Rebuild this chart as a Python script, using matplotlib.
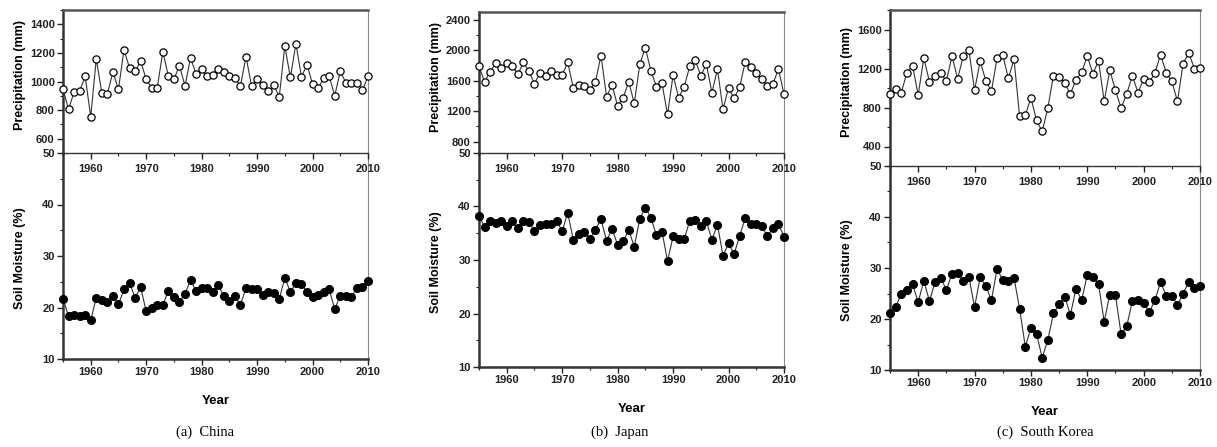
# Precipitation and soil moisture, 1955-2010, three countries

import numpy as np
import matplotlib
matplotlib.use("Agg")
import matplotlib.pyplot as plt
from matplotlib.ticker import MultipleLocator

plt.rcParams['font.family'] = ['Liberation Sans', 'DejaVu Sans']
plt.rcParams['font.weight'] = 'bold'

# === Data ===
years = list(range(1955, 2011))

china_precip = [948, 805, 927, 934, 1035, 753, 1158, 920, 915, 1064,
                946, 1221, 1094, 1073, 1141, 1016, 953, 958, 1209, 1038,
                1016, 1111, 969, 1165, 1052, 1087, 1035, 1047, 1087, 1068,
                1040, 1024, 969, 1174, 969, 1016, 974, 934, 974, 894,
                1249, 1028, 1264, 1033, 1118, 981, 953, 1021, 1038, 901,
                1071, 993, 991, 988, 940, 1035]
china_soil = [21.7, 18.3, 18.6, 18.3, 18.6, 17.5, 21.9, 21.4, 21.1, 22.2,
              20.6, 23.5, 24.8, 21.9, 23.9, 19.3, 20.0, 20.4, 20.5, 23.2,
              22.1, 21.1, 22.7, 25.3, 23.2, 23.8, 23.8, 23.0, 24.3, 22.2,
              21.3, 22.2, 20.5, 23.8, 23.5, 23.5, 22.4, 23.0, 22.9, 21.6,
              25.8, 23.0, 24.8, 24.5, 23.0, 22.0, 22.4, 23.0, 23.5, 19.7,
              22.3, 22.3, 22.1, 23.8, 24.0, 25.2]

japan_precip = [1790, 1580, 1716, 1825, 1763, 1825, 1790, 1681, 1838, 1724,
                1559, 1702, 1659, 1720, 1667, 1676, 1838, 1506, 1545, 1528,
                1476, 1585, 1929, 1388, 1541, 1266, 1375, 1585, 1301, 1816,
                2029, 1729, 1519, 1563, 1157, 1672, 1375, 1519, 1785, 1868,
                1663, 1816, 1441, 1750, 1223, 1506, 1367, 1511, 1842, 1772,
                1698, 1620, 1532, 1560, 1750, 1420]
japan_soil = [38.3, 36.2, 37.2, 36.9, 37.2, 36.4, 37.2, 35.9, 37.3, 37.1,
              35.4, 36.6, 36.7, 36.7, 37.3, 35.4, 38.8, 33.8, 34.9, 35.3,
              33.9, 35.7, 37.6, 33.6, 35.8, 32.8, 33.5, 35.6, 32.5, 37.7,
              39.8, 37.9, 34.6, 35.3, 29.8, 34.4, 33.9, 33.9, 37.3, 37.4,
              36.3, 37.2, 33.8, 36.6, 30.8, 33.1, 31.1, 34.5, 37.8, 36.8,
              36.7, 36.4, 34.4, 36.0, 36.8, 34.3]

korea_precip = [942, 989, 952, 1158, 1230, 928, 1308, 1065, 1123, 1151,
                1072, 1326, 1096, 1326, 1387, 976, 1278, 1072, 969, 1308,
                1339, 1099, 1295, 708, 718, 900, 667, 554, 794, 1127,
                1116, 1051, 938, 1086, 1161, 1326, 1147, 1278, 863, 1182,
                976, 794, 941, 1127, 952, 1092, 1061, 1151, 1343, 1158,
                1068, 863, 1250, 1360, 1200, 1210]
korea_soil = [21.1, 22.3, 25.0, 25.6, 26.8, 23.3, 27.5, 23.5, 27.3, 28.1,
              25.7, 28.9, 29.0, 27.5, 28.3, 22.3, 28.2, 26.4, 23.7, 29.9,
              27.6, 27.5, 28.1, 22.0, 14.6, 18.2, 17.1, 12.4, 15.9, 21.1,
              22.9, 24.4, 20.8, 25.9, 23.7, 28.6, 28.2, 26.8, 19.5, 24.8,
              24.7, 17.0, 18.6, 23.5, 23.7, 23.2, 21.3, 23.7, 27.2, 24.6,
              24.6, 22.7, 25.0, 27.2, 26.0, 26.5]

captions = ['(a)  China', '(b)  Japan', '(c)  South Korea']

# === Layout (pixels in a 1217 x 447 figure) ===
W, H = 1217, 447
# left, right, top-of-precip, split, bottom-of-soil
boxes = [(63, 368, 10, 153, 359),
         (479, 784, 12, 153, 367),
         (890, 1200, 10, 166, 370)]
precip_lims = [(500, 1500), (650, 2500), (200, 1800)]
precip_major = [200, 400, 400]
precip_first = [600, 800, 400]
caption_x = [205, 620, 1045]

fig = plt.figure(figsize=(W / 100, H / 100), dpi=100)


def style_axis(ax):
    for s in ax.spines.values():
        s.set_linewidth(0.8)
        s.set_color('#888888')
    ax.spines['left'].set_linewidth(1.8)
    ax.spines['left'].set_color('#333333')
    ax.tick_params(axis='both', which='major', direction='out', length=4,
                   width=1, labelsize=8, pad=2, colors='#222222')
    ax.tick_params(axis='both', which='minor', direction='out', length=2.5,
                   width=0.8, colors='#222222')
    ax.xaxis.set_major_locator(MultipleLocator(10))
    ax.xaxis.set_minor_locator(MultipleLocator(5))
    ax.set_xlim(1955, 2010)


def draw_panel(i, precip, soil):
    left, right, top, mid, bot = boxes[i]
    w = (right - left) / W

    # soil moisture (filled circles), drawn first so the upper axis labels sit on top
    ax2 = fig.add_axes([left / W, 1 - bot / H, w, (bot - mid) / H])
    ax2.plot(years, soil, '-o', color='#333333', lw=0.8, ms=5.5,
             mfc='black', mec='black', clip_on=False, zorder=3)
    style_axis(ax2)
    ax2.set_ylim(10, 50)
    ax2.yaxis.set_major_locator(MultipleLocator(10))
    ax2.yaxis.set_minor_locator(MultipleLocator(5))
    ax2.spines['bottom'].set_linewidth(1.8)
    ax2.spines['bottom'].set_color('#333333')
    ax2.spines['top'].set_visible(False)

    # precipitation (open circles)
    ax1 = fig.add_axes([left / W, 1 - mid / H, w, (mid - top) / H])
    ax1.patch.set_visible(False)
    ax1.plot(years, precip, '-o', color='#333333', lw=0.8, ms=5.2,
             mfc='white', mec='black', mew=0.9, clip_on=False, zorder=3)
    style_axis(ax1)
    lo, hi = precip_lims[i]
    ax1.set_ylim(lo, hi)
    ax1.set_yticks(np.arange(precip_first[i], hi + 1, precip_major[i]))
    ax1.yaxis.set_minor_locator(MultipleLocator(precip_major[i] / 2))
    ax1.spines['top'].set_linewidth(1.8)
    ax1.spines['top'].set_color('#555555')
    ax1.spines['bottom'].set_color('#333333')
    ax1.spines['bottom'].set_linewidth(1.0)
    ax1.tick_params(axis='x', which='major', pad=4)

    # axis titles
    fig.text((left - 43) / W, 1 - ((top + mid) / 2 - 6) / H, 'Precipitation (mm)',
             rotation=90, ha='center', va='center', fontsize=9, fontweight='bold')
    fig.text((left - 43) / W, 1 - ((mid + bot) / 2 + 2) / H, 'Soil Moisture (%)',
             rotation=90, ha='center', va='center', fontsize=9, fontweight='bold')
    fig.text((left + right) / 2 / W, 1 - (bot + 42) / H, 'Year',
             ha='center', va='center', fontsize=9.5, fontweight='bold')
    fig.text(caption_x[i] / W, 1 - 432 / H, captions[i],
             ha='center', va='center', fontsize=10.5, fontweight='normal',
             family=['Liberation Serif', 'DejaVu Serif'])


# === Draw ===
draw_panel(0, china_precip, china_soil)
draw_panel(1, japan_precip, japan_soil)
draw_panel(2, korea_precip, korea_soil)

fig.savefig('out.png', dpi=100)
